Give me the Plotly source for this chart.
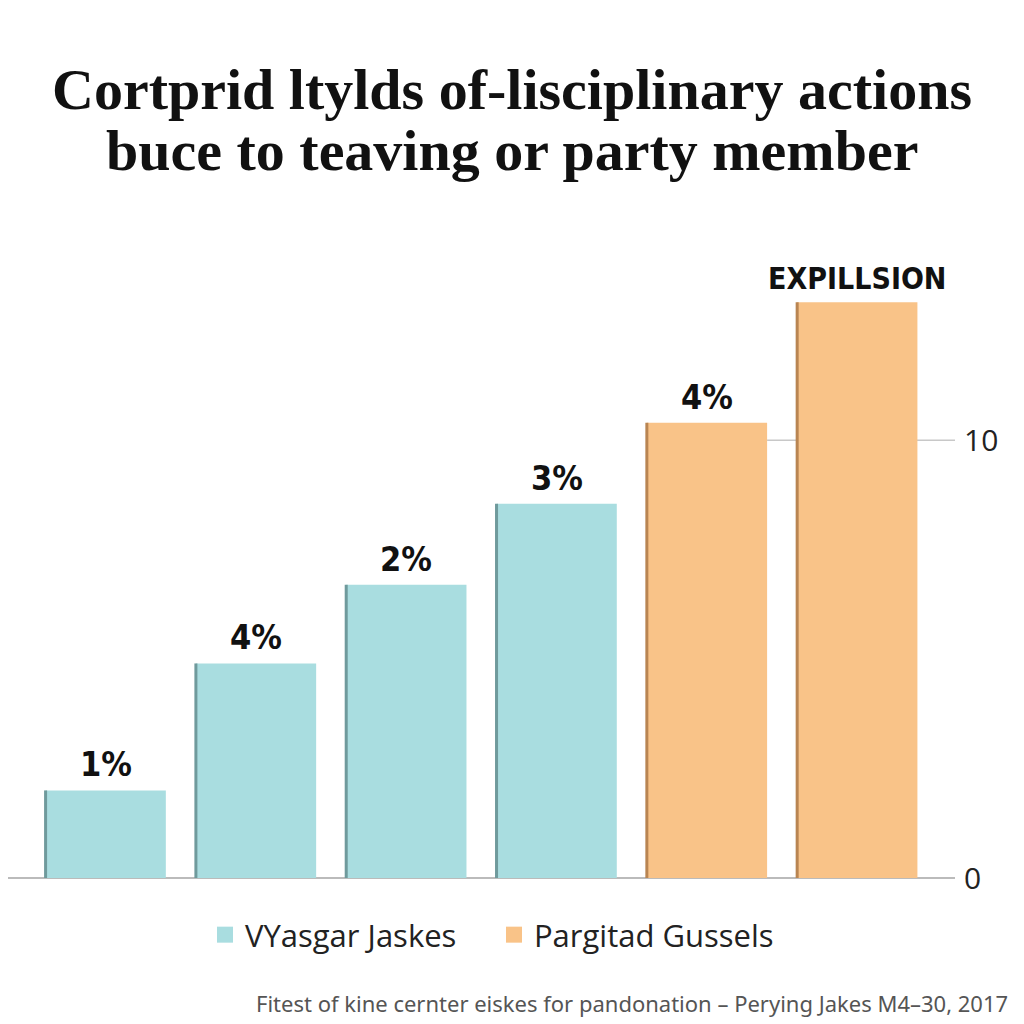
import plotly.graph_objects as go

categories = ["A", "B", "C", "D", "E", "F"]
values = [2.0, 4.9, 6.7, 8.55, 10.4, 13.15]
bar_labels = ["1%", "4%", "2%", "3%", "4%", "EXPILLSION"]
groups = ["VYasgar Jaskes", "VYasgar Jaskes", "VYasgar Jaskes", "VYasgar Jaskes",
          "Pargitad Gussels", "Pargitad Gussels"]
legend_names = ["VYasgar Jaskes", "Pargitad Gussels"]
y_tick_vals = [0, 10]
y_tick_text = ["0", "10"]

title_lines = ["Cortprid ltylds of-lisciplinary actions", "buce to teaving or party member"]
footnote = "Fitest of kine cernter eiskes for pandonation – Perying Jakes M4–30, 2017"

colors = {"VYasgar Jaskes": "#A9DDE0", "Pargitad Gussels": "#F9C388"}
edge_colors = {"VYasgar Jaskes": "#6F9A9C", "Pargitad Gussels": "#B98552"}

xpos = list(range(len(categories)))

fig = go.Figure()

for name in legend_names:
    xs = [x for x, g in zip(xpos, groups) if g == name]
    ys = [v for v, g in zip(values, groups) if g == name]
    fig.add_trace(go.Bar(
        x=xs, y=ys, width=0.8, name=name,
        marker=dict(color=colors[name], line=dict(width=0)),
        showlegend=False, hoverinfo="skip",
    ))
    # thin shaded left edge
    fig.add_trace(go.Bar(
        x=xs, y=ys, width=0.02, offset=-0.41,
        marker=dict(color=edge_colors[name], line=dict(width=0)),
        showlegend=False, hoverinfo="skip",
    ))

# legend entries
for name in legend_names:
    fig.add_trace(go.Scatter(
        x=[None], y=[None], mode="markers", name=name,
        marker=dict(symbol="square", size=22, color=colors[name]),
    ))

# labels above bars
for x, v, lab in zip(xpos, values, bar_labels):
    fig.add_annotation(
        x=x, y=v, text=lab, showarrow=False, yanchor="bottom", yshift=4,
        font=dict(family="DejaVu Sans Condensed, Liberation Sans Narrow, Arial",
                  size=34 if lab != "EXPILLSION" else 30,
                  color="#111111", weight="bold"),
    )

# title lines
for line, ypos in zip(title_lines, [1.2855, 1.1876]):
    fig.add_annotation(
        xref="paper", yref="paper", x=0.532, y=ypos, xanchor="center", yanchor="middle",
        text=line, showarrow=False,
        font=dict(family="Liberation Serif, DejaVu Serif", size=58, color="#111111", weight="bold"),
    )

fig.add_annotation(
    xref="paper", yref="paper", x=1.058, y=-0.204, xanchor="right", yanchor="middle",
    text=footnote, showarrow=False,
    font=dict(family="Noto Sans, Open Sans", size=22, color="#555555"),
)

# partial reference line at 10
fig.add_shape(type="line", xref="x", yref="y", x0=4.4, x1=5.65, y0=10, y1=10,
              line=dict(color="#C8C8C8", width=1.5), layer="below")

fig.update_layout(
    width=1024, height=1024,
    paper_bgcolor="white", plot_bgcolor="white",
    margin=dict(l=8, r=69, t=265, b=146, autoexpand=False),
    barmode="overlay",
    xaxis=dict(range=[-0.65, 5.65], showticklabels=False, showgrid=False,
               zeroline=False, showline=False, fixedrange=True),
    yaxis=dict(range=[0, 14], side="right", tickvals=y_tick_vals, ticktext=y_tick_text,
               showgrid=False,
               zeroline=True, zerolinecolor="#BBBBBB", zerolinewidth=2,
               showline=False, ticks="", ticklabelstandoff=8,
               tickfont=dict(family="Open Sans, Noto Sans", size=30, color="#222222")),
    legend=dict(orientation="h", x=0.208, xanchor="left", y=-0.093, yanchor="middle",
                font=dict(family="Open Sans, Noto Sans", size=31, color="#222222"),
                entrywidth=244, entrywidthmode="pixels",
                itemsizing="trace", itemwidth=30, bgcolor="rgba(0,0,0,0)"),
    showlegend=True,
)

fig.write_html("out.html")
